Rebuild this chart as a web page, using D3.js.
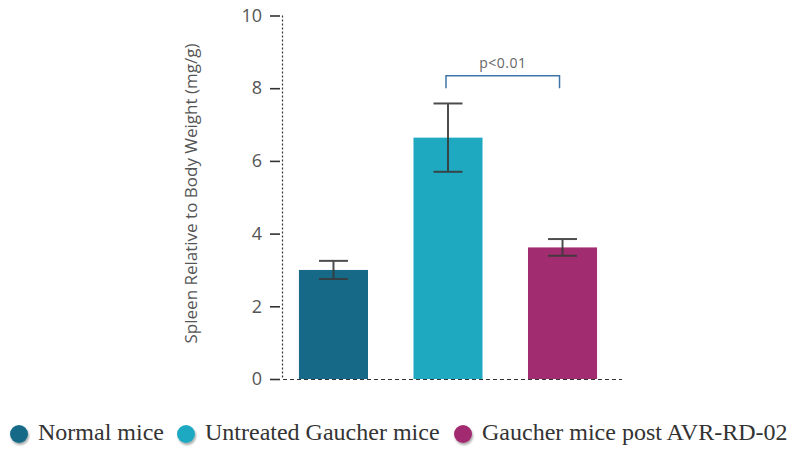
<!DOCTYPE html>
<html><head><meta charset="utf-8">
<script src="https://cdn.jsdelivr.net/npm/d3@7"></script>
<style>body{margin:0;background:#fff;} svg{display:block;}</style>
</head><body>
<svg id="c" width="791" height="449"></svg>
<script>
const categories = ["Normal mice", "Untreated Gaucher mice", "Gaucher mice post AVR-RD-02"];
const means = [3.0, 6.64, 3.62];
const errors = [0.25, 0.94, 0.23];
const colors = ["#166a87", "#1fa9c1", "#a22c70"];
const yTicks = [0, 2, 4, 6, 8, 10];
const sigPair = [1, 2];
const sigLabel = "p<0.01";
const sigLevel = 8.0;
const yTitle = "Spleen Relative to Body Weight (mg/g)";

const svg = d3.select("#c");
const y = d3.scaleLinear().domain([0, 10]).range([379, 15.5]);
const x = d3.scaleBand().domain(categories).range([282, 614]).paddingInner(0.397).paddingOuter(0.148);

const defs = svg.append("defs");
const f = defs.append("filter").attr("id","sh").attr("x","-50%").attr("y","-50%").attr("width","200%").attr("height","200%");
f.append("feDropShadow").attr("dx",1).attr("dy",2).attr("stdDeviation",1.2).attr("flood-color","#000").attr("flood-opacity",0.35);

// bars
svg.append("g").selectAll("rect").data(categories).join("rect")
  .attr("x", d => x(d)).attr("width", x.bandwidth())
  .attr("y", (d,i) => y(means[i])).attr("height", (d,i) => y(0) - y(means[i]))
  .attr("fill", (d,i) => colors[i]);

// error bars
const eg = svg.append("g").attr("stroke", "#3a3a3a").attr("stroke-width", 2).attr("opacity", 0.9);
categories.forEach((c, i) => {
  const cx = x(c) + x.bandwidth()/2;
  const top = y(means[i] + errors[i]), bot = y(means[i] - errors[i]);
  eg.append("line").attr("x1", cx).attr("x2", cx).attr("y1", top).attr("y2", bot);
  eg.append("line").attr("x1", cx-14.5).attr("x2", cx+14.5).attr("y1", top).attr("y2", top);
  eg.append("line").attr("x1", cx-14.5).attr("x2", cx+14.5).attr("y1", bot).attr("y2", bot);
});

// y axis
const ax = svg.append("g").attr("transform", "translate(280,0)")
  .call(d3.axisLeft(y).tickValues(yTicks).tickSize(10).tickPadding(8));
ax.select(".domain").remove();
ax.selectAll(".tick line").attr("stroke", "#333").attr("stroke-width", 1.6);
ax.selectAll(".tick text").attr("fill", "#555").style("font-family", "'Open Sans', sans-serif").style("font-size", "18px");

svg.append("line").attr("x1", 282.5).attr("x2", 282.5).attr("y1", y(10)).attr("y2", y(0))
  .attr("stroke", "#333").attr("stroke-width", 1.2).attr("stroke-dasharray", "2,2");
svg.append("line").attr("x1", 283).attr("x2", 622).attr("y1", y(0)+0.5).attr("y2", y(0)+0.5)
  .attr("stroke", "#333").attr("stroke-width", 1.2).attr("stroke-dasharray", "4,3");

// y title
svg.append("text").attr("transform", `translate(197,${(42+345)/2}) rotate(-90)`)
  .attr("text-anchor", "middle").attr("fill", "#555")
  .style("font-family", "'Open Sans', sans-serif").style("font-size", "17px").text(yTitle);

// significance bracket
const bx1 = x(categories[sigPair[0]]) + x.bandwidth()/2 - 2;
const bx2 = x(categories[sigPair[1]]) + x.bandwidth()/2 - 3;
const by = y(sigLevel) - 12.5;
svg.append("path").attr("d", `M${bx1},${y(sigLevel)} V${by} H${bx2} V${y(sigLevel)}`)
  .attr("fill", "none").attr("stroke", "#3f74a8").attr("stroke-width", 1.5);
svg.append("text").attr("x", (bx1+bx2)/2).attr("y", by - 8).attr("text-anchor", "middle")
  .attr("fill", "#666").style("font-family", "'Open Sans', sans-serif").style("font-size", "14px")
  .style("letter-spacing", "0.5px").text(sigLabel);

// legend
const legX = [19, 186, 463];
const lg = svg.append("g");
categories.forEach((c, i) => {
  lg.append("circle").attr("cx", legX[i]).attr("cy", 434).attr("r", 9).attr("fill", colors[i]).attr("filter", "url(#sh)");
  lg.append("text").attr("x", legX[i] + 19).attr("y", 440).attr("fill", "#333")
    .style("font-family", "'Liberation Serif', 'Times New Roman', serif").style("font-size", "24px").text(c);
});
</script>
</body></html>
